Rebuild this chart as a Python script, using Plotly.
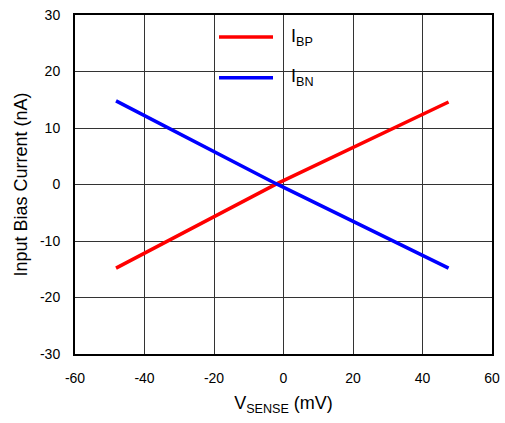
import plotly.graph_objects as go

# Data
vsense = [-48.2, -2.0, 47.5]
ibp = [-14.8, 0.1, 14.6]
ibn = [14.8, 0.1, -14.8]

x_ticks = [-60, -40, -20, 0, 20, 40, 60]
y_ticks = [-30, -20, -10, 0, 10, 20, 30]
x_labels = ["-60", "-40", "-20", "0", "20", "40", "60"]
y_labels = ["-30", "-20", "-10", "0", "10", "20", "30"]

FONT = "Liberation Sans, Arial, sans-serif"

fig = go.Figure()
fig.add_trace(go.Scatter(x=vsense, y=ibp, mode="lines", name="IBP",
                         line=dict(color="#ff0000", width=3.5), showlegend=False))
fig.add_trace(go.Scatter(x=vsense, y=ibn, mode="lines", name="IBN",
                         line=dict(color="#0000ff", width=3.5), showlegend=False))

# Manual legend (no background, grid visible through)
legend_items = [("I<sub>BP</sub>", "#ff0000", 0.935), ("I<sub>BN</sub>", "#0000ff", 0.815)]
for label, color, yp in legend_items:
    fig.add_shape(type="line", xref="paper", yref="paper",
                  x0=(219 - 75) / 417, x1=(273 - 75) / 417, y0=yp, y1=yp,
                  line=dict(color=color, width=3.5))
    fig.add_annotation(xref="paper", yref="paper", x=(289 - 75) / 417, y=yp,
                       xanchor="left", yanchor="middle", text=label, showarrow=False,
                       font=dict(family=FONT, size=18, color="black"))

fig.update_xaxes(range=[-60, 60], tickvals=x_ticks, ticktext=x_labels, showgrid=True,
                 gridcolor="#333333", gridwidth=1, showline=True, linecolor="black",
                 linewidth=2, mirror=True, zeroline=False, ticks="", ticklabelstandoff=10,
                 tickfont=dict(family=FONT, size=14, color="black"),
                 title=dict(text="V<sub>SENSE</sub> (mV)", font=dict(family=FONT, size=18, color="black"),
                            standoff=12))
fig.update_yaxes(range=[-30, 30], tickvals=y_ticks, ticktext=y_labels, showgrid=True,
                 gridcolor="#333333", gridwidth=1, showline=True, linecolor="black",
                 linewidth=2, mirror=True, zeroline=False, ticks="", ticklabelstandoff=10,
                 tickfont=dict(family=FONT, size=14, color="black"),
                 title=dict(text="Input Bias Current (nA)", font=dict(family=FONT, size=18, color="black"),
                            standoff=8))

fig.update_layout(width=505, height=423, margin=dict(l=75, r=13, t=15, b=69, autoexpand=False),
                  plot_bgcolor="white", paper_bgcolor="white", showlegend=False)

fig.write_html("out.html", config={"displayModeBar": False},
               post_script="document.body.style.margin='0';")
